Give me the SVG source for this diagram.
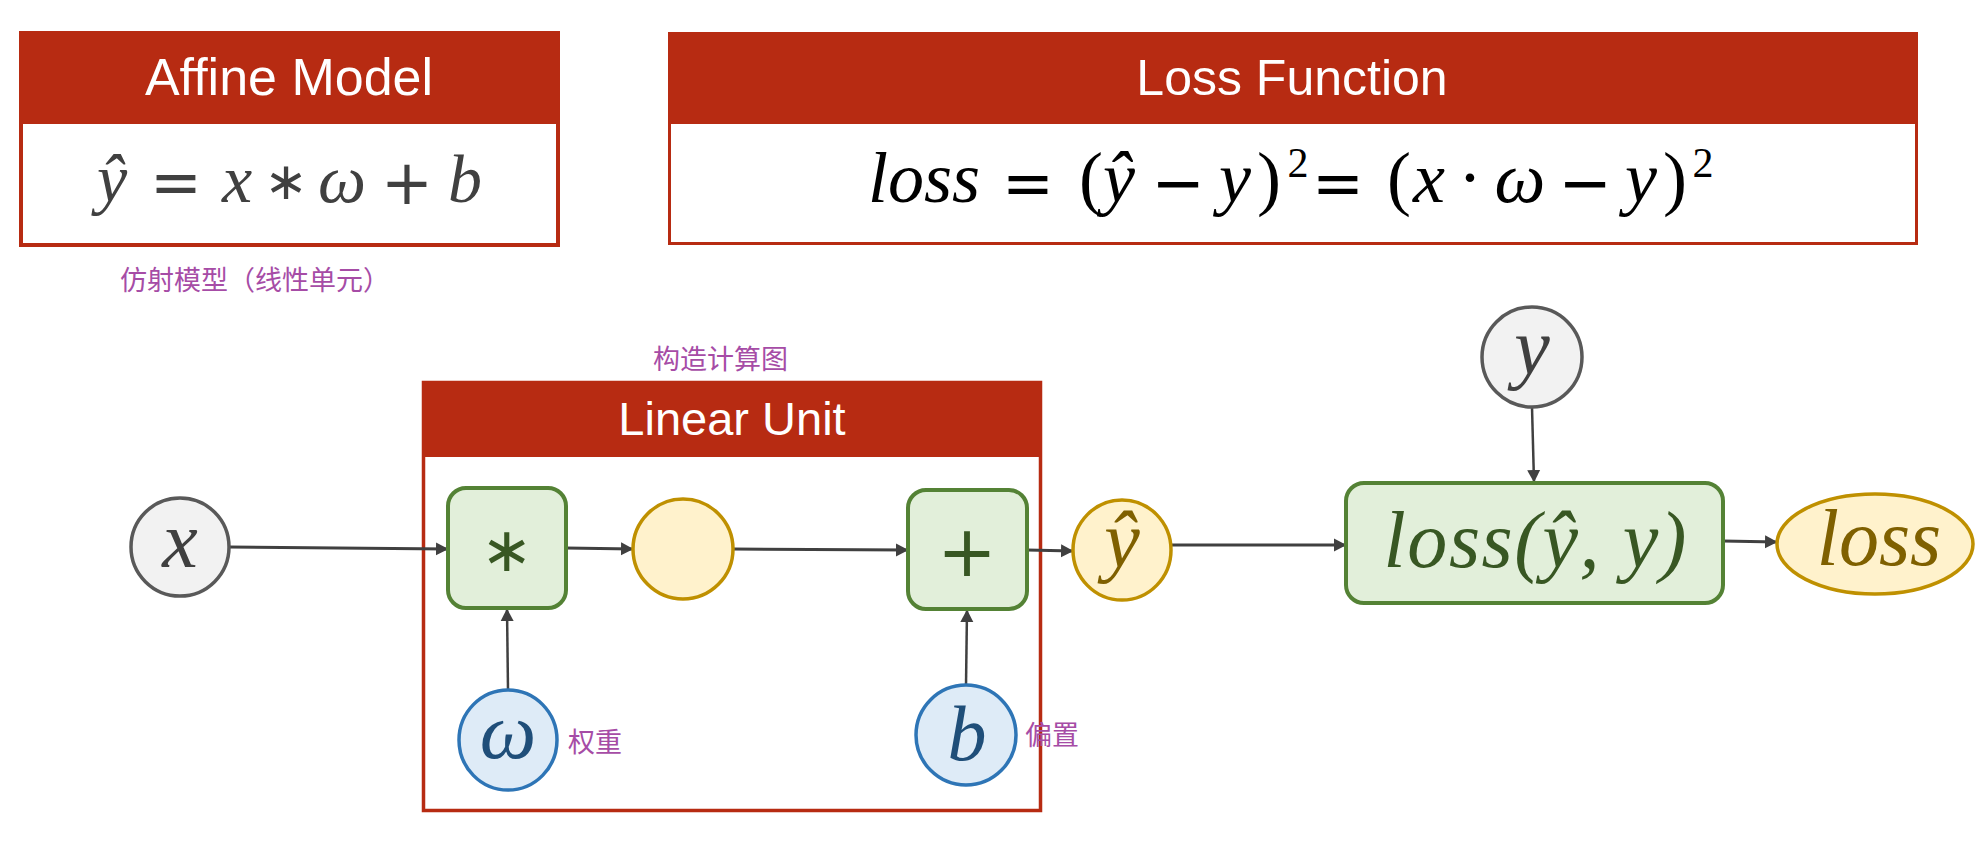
<svg xmlns="http://www.w3.org/2000/svg" width="1988" height="845" viewBox="0 0 1988 845">
<style>
.hdr{fill:#b72b12}
.panel{fill:#ffffff;stroke:#b72b12}
.title{font-family:"Liberation Sans",Arial,sans-serif;fill:#ffffff;text-anchor:middle}
.m{font-family:"Liberation Serif","Times New Roman",serif;font-style:italic;text-anchor:middle}
.u{font-family:"Liberation Serif","Times New Roman",serif;font-style:normal;text-anchor:middle}
.op{font-family:"DejaVu Sans",sans-serif;text-anchor:middle}
.ast{font-family:"DejaVu Sans",sans-serif;text-anchor:middle}
.cn{font-family:"Noto Sans CJK SC","Noto Sans",sans-serif;fill:#a64ca6;font-size:27px}
.gray{fill:#f2f2f2;stroke:#595959;stroke-width:3.5}
.yel{fill:#fff2cc;stroke:#bf9000;stroke-width:3.5}
.blue{fill:#deebf7;stroke:#2e75b6;stroke-width:3.5}
.opbox{fill:#e2efda;stroke:#548235;stroke-width:4}
.edge{stroke:#404040;stroke-width:3;fill:none;marker-end:url(#arr)}
.thin{stroke-width:2.5}
</style>
<defs>
<marker id="arr" markerUnits="userSpaceOnUse" markerWidth="13" markerHeight="14" refX="12" refY="7" orient="auto">
<path d="M0,0.5 L12.5,7 L0,13.5 z" fill="#404040"/>
</marker>
</defs>
<rect width="1988" height="845" fill="#ffffff"/>

<g id="affine-model">
<rect class="panel" x="21" y="33" width="537" height="212" stroke-width="4"/>
<rect class="hdr" x="19" y="31" width="541" height="93"/>
<text class="title" x="289" y="95" font-size="52">Affine Model</text>
<g fill="#404040" font-size="68">
<text class="m" x="112" y="202">ŷ</text>
<text class="op" x="176" y="204" font-size="62">=</text>
<text class="m" x="237" y="202">x</text>
<text class="ast" x="286" y="199" font-size="52">∗</text>
<text class="m" x="342" y="202">ω</text>
<text class="op" x="407" y="204" font-size="62">+</text>
<text class="m" x="465" y="202">b</text>
</g>
</g>
<text id="label-affine" class="cn" x="120" y="290">仿射模型（线性单元）</text>

<g id="loss-function">
<rect class="panel" x="669.5" y="33.5" width="1247" height="210" stroke-width="3"/>
<rect class="hdr" x="668" y="32" width="1250" height="92"/>
<text class="title" x="1292" y="95" font-size="50">Loss Function</text>
<g fill="#000000" font-size="72">
<text class="m" x="924" y="202">loss</text>
<text class="op" x="1028" y="205" font-size="62">=</text>
<text class="u" x="1091" y="202">(</text>
<text class="m" x="1119" y="202">ŷ</text>
<text class="op" x="1178" y="205" font-size="64">−</text>
<text class="m" x="1235" y="202">y</text>
<text class="u" x="1269" y="202">)</text>
<text class="u" x="1298" y="177" font-size="42">2</text>
<text class="op" x="1338" y="205" font-size="62">=</text>
<text class="u" x="1399" y="202">(</text>
<text class="m" x="1429" y="202">x</text>
<text class="u" x="1470" y="202">·</text>
<text class="m" x="1520" y="202">ω</text>
<text class="op" x="1585" y="205" font-size="64">−</text>
<text class="m" x="1641" y="202">y</text>
<text class="u" x="1675" y="202">)</text>
<text class="u" x="1703" y="177" font-size="42">2</text>
</g>
</g>

<text id="label-graph" class="cn" x="653" y="369" font-size="28">构造计算图</text>

<g id="linear-unit">
<rect class="panel" x="423.5" y="382.5" width="617" height="428" stroke-width="3.5"/>
<rect class="hdr" x="422" y="381" width="620" height="76"/>
<text class="title" x="732" y="435" font-size="47">Linear Unit</text>
</g>

<g id="connectors">
<path class="edge" d="M229,547 L448,549"/>
<path class="edge" d="M566,548 L633,549"/>
<path class="edge" d="M733,549 L908,550"/>
<path class="edge" d="M1027,550 L1073,551"/>
<path class="edge thin" d="M508,690 L507,609"/>
<path class="edge thin" d="M966,685 L967,610"/>
<path class="edge" d="M1171,545 L1346,545"/>
<path class="edge thin" d="M1532,407 L1534,482"/>
<path class="edge" d="M1723,541 L1777,542"/>
</g>

<g id="node-x">
<circle class="gray" cx="180" cy="547" r="49"/>
<text class="m" x="180" y="567" font-size="80" fill="#404040">x</text>
</g>
<g id="node-mul">
<rect class="opbox" x="448" y="488" width="118" height="120" rx="18"/>
<text class="ast" x="507" y="571" font-size="62" fill="#385723">∗</text>
</g>
<g id="node-mid">
<ellipse class="yel" cx="683" cy="549" rx="50" ry="50"/>
</g>
<g id="node-add">
<rect class="opbox" x="908" y="490" width="119" height="119" rx="18"/>
<text class="op" x="967" y="576" font-size="71" fill="#385723">+</text>
</g>
<g id="node-w">
<ellipse class="blue" cx="508" cy="740" rx="49" ry="50"/>
<text class="m" x="508" y="758" font-size="80" fill="#1f4e79">ω</text>
</g>
<text id="label-w" class="cn" x="568" y="752" font-size="28">权重</text>
<g id="node-b">
<ellipse class="blue" cx="966" cy="735" rx="50" ry="50"/>
<text class="m" x="967" y="760" font-size="78" fill="#1f4e79">b</text>
</g>
<text id="label-b" class="cn" x="1025" y="745" font-size="28">偏置</text>
<g id="node-yhat">
<ellipse class="yel" cx="1122" cy="550" rx="49" ry="50"/>
<text class="m" x="1122" y="567" font-size="80" fill="#7f6000">ŷ</text>
</g>
<g id="node-y">
<ellipse class="gray" cx="1532" cy="357" rx="50" ry="50"/>
<text class="m" x="1532" y="374" font-size="80" fill="#404040">y</text>
</g>
<g id="node-lossfn">
<rect class="opbox" x="1346" y="483" width="377" height="120" rx="18"/>
<text class="m" x="1535" y="567" font-size="80" fill="#385723" textLength="303" lengthAdjust="spacing">loss(ŷ, y)</text>
</g>
<g id="node-loss">
<ellipse class="yel" cx="1875" cy="544" rx="98" ry="50"/>
<text class="m" x="1879" y="565" font-size="80" fill="#7f6000">loss</text>
</g>
</svg>
